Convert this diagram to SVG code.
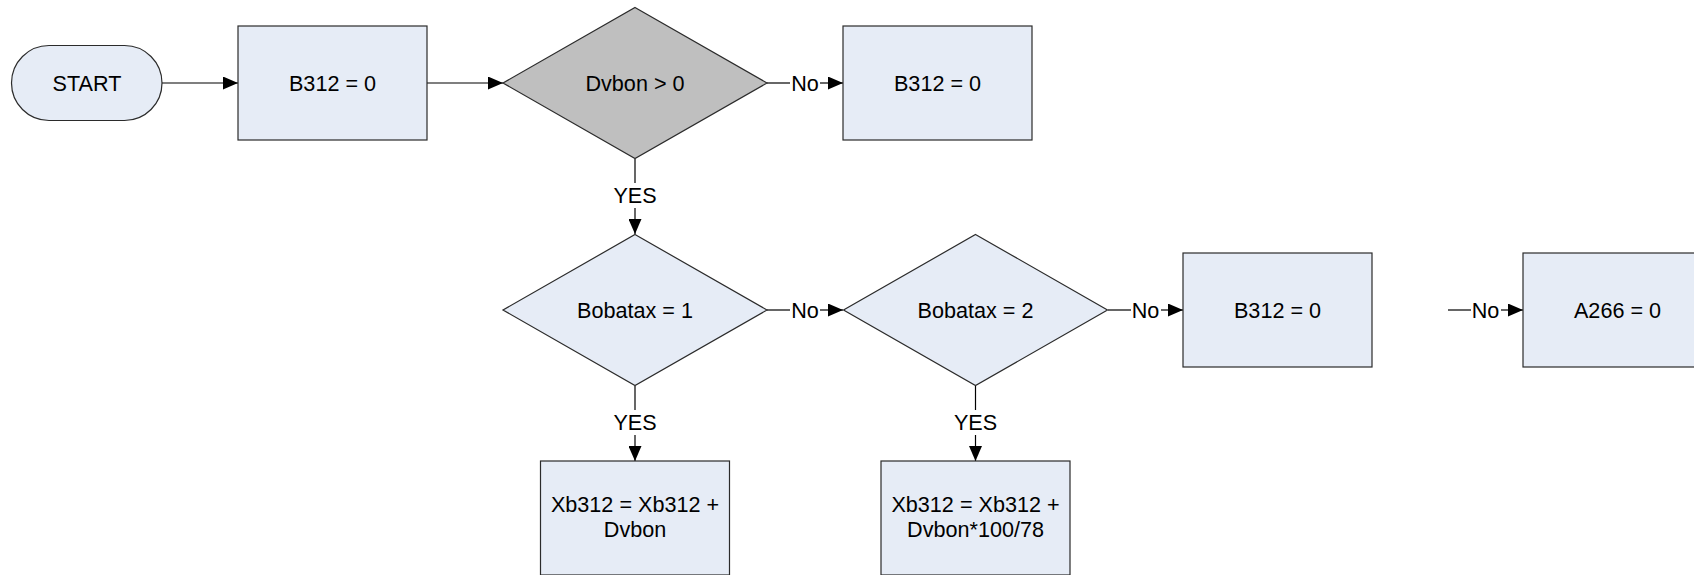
<svg xmlns="http://www.w3.org/2000/svg" width="1694" height="575" viewBox="0 0 1694 575">
<style>
.n{fill:#E6ECF6;stroke:#2b2b2b;stroke-width:1.2}
.g{fill:#BFBFBF;stroke:#2b2b2b;stroke-width:1.2}
.t{font-family:"Liberation Sans",Arial,sans-serif;font-size:21.6px;fill:#000;text-anchor:middle}
.c{stroke:#000;stroke-width:1.2;fill:none}
</style>
<defs>
<marker id="a" viewBox="0 0 15 13" refX="15" refY="6.5" markerWidth="15" markerHeight="13" markerUnits="userSpaceOnUse" orient="auto">
<path d="M0,0 L15,6.5 L0,13 Z" fill="#000"/>
</marker>
</defs>
<rect width="1694" height="575" fill="#fff"/>
<g id="connectors">
<line class="c" x1="162" y1="83" x2="238" y2="83" marker-end="url(#a)"/>
<line class="c" x1="427" y1="83" x2="503" y2="83" marker-end="url(#a)"/>
<line class="c" x1="767" y1="83" x2="790" y2="83"/>
<line class="c" x1="820" y1="83" x2="843" y2="83" marker-end="url(#a)"/>
<text class="t" x="805" y="90.5">No</text>
<line class="c" x1="635" y1="159" x2="635" y2="183"/>
<line class="c" x1="635" y1="208" x2="635" y2="234" marker-end="url(#a)"/>
<text class="t" x="635" y="203">YES</text>
<line class="c" x1="767" y1="310" x2="790" y2="310"/>
<line class="c" x1="820" y1="310" x2="843" y2="310" marker-end="url(#a)"/>
<text class="t" x="805" y="317.5">No</text>
<line class="c" x1="1108" y1="310" x2="1131" y2="310"/>
<line class="c" x1="1161" y1="310" x2="1183" y2="310" marker-end="url(#a)"/>
<text class="t" x="1145.5" y="317.5">No</text>
<line class="c" x1="1448" y1="310" x2="1471" y2="310"/>
<line class="c" x1="1501" y1="310" x2="1523" y2="310" marker-end="url(#a)"/>
<text class="t" x="1485.5" y="317.5">No</text>
<line class="c" x1="635" y1="386" x2="635" y2="410"/>
<line class="c" x1="635" y1="435" x2="635" y2="461" marker-end="url(#a)"/>
<text class="t" x="635" y="430">YES</text>
<line class="c" x1="975.5" y1="386" x2="975.5" y2="410"/>
<line class="c" x1="975.5" y1="435" x2="975.5" y2="461" marker-end="url(#a)"/>
<text class="t" x="975.5" y="430">YES</text>
</g>
<g id="start">
<rect class="n" x="11.5" y="45.5" width="150.5" height="75" rx="37.5" ry="37.5"/>
<text class="t" x="87" y="90.5">START</text>
</g>
<g id="b312a">
<rect class="n" x="238" y="26" width="189" height="114"/>
<text class="t" x="332.5" y="90.5">B312 = 0</text>
</g>
<g id="dvbon">
<polygon class="g" points="635,7.5 767,83 635,158.5 503,83"/>
<text class="t" x="635" y="90.5">Dvbon &gt; 0</text>
</g>
<g id="b312b">
<rect class="n" x="843" y="26" width="189" height="114"/>
<text class="t" x="937.5" y="90.5">B312 = 0</text>
</g>
<g id="bobatax1">
<polygon class="n" points="635,234.5 767,310 635,385.5 503,310"/>
<text class="t" x="635" y="317.5">Bobatax = 1</text>
</g>
<g id="bobatax2">
<polygon class="n" points="975.5,234.5 1107.5,310 975.5,385.5 843.5,310"/>
<text class="t" x="975.5" y="317.5">Bobatax = 2</text>
</g>
<g id="b312c">
<rect class="n" x="1183" y="253" width="189" height="114"/>
<text class="t" x="1277.5" y="317.5">B312 = 0</text>
</g>
<g id="a266">
<rect class="n" x="1523" y="253" width="189" height="114"/>
<text class="t" x="1617.5" y="317.5">A266 = 0</text>
</g>
<g id="xb312a">
<rect class="n" x="540.5" y="461" width="189" height="114"/>
<text class="t" x="635" y="511.5">Xb312 = Xb312 +</text>
<text class="t" x="635" y="536.5">Dvbon</text>
</g>
<g id="xb312b">
<rect class="n" x="881" y="461" width="189" height="114"/>
<text class="t" x="975.5" y="511.5">Xb312 = Xb312 +</text>
<text class="t" x="975.5" y="536.5">Dvbon*100/78</text>
</g>
</svg>
